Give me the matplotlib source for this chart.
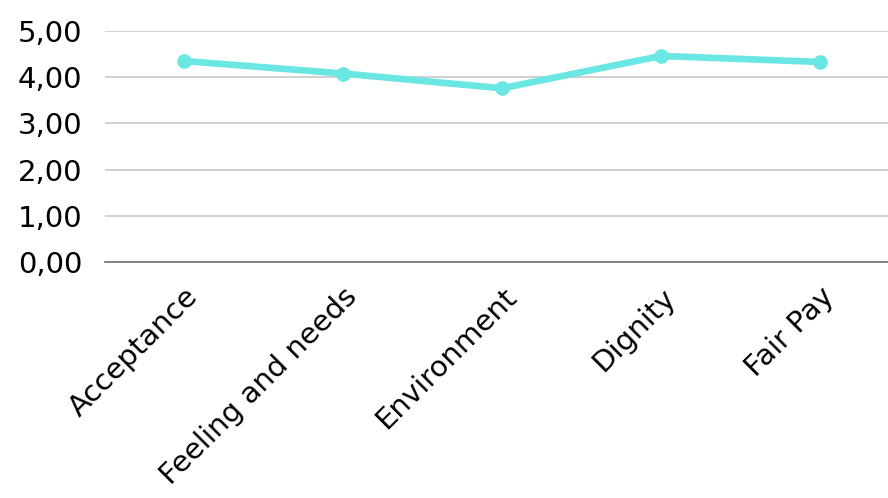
import matplotlib
matplotlib.use("Agg")
import matplotlib.pyplot as plt
from matplotlib.ticker import FuncFormatter

categories = ["Acceptance", "Feeling and needs", "Environment", "Dignity", "Fair Pay"]
values = [4.35, 4.08, 3.76, 4.46, 4.33]
yticks = [0, 1, 2, 3, 4, 5]

plt.rcParams['font.family'] = ['DejaVu Sans']

fig = plt.figure(figsize=(8.88, 4.98), dpi=100)
W, H = 888, 498
left, right = 104.5, 899.5
bottom, top = 262, 31
ax = fig.add_axes([left / W, 1 - bottom / H, (right - left) / W, (bottom - top) / H])

x = list(range(len(categories)))
ax.plot(x, values, color="#6ae6e3", linewidth=4.8, marker="o", markersize=9.5,
        solid_capstyle="round", zorder=3, clip_on=False)

ax.set_xlim(-0.5, len(categories) - 0.5)
ax.set_ylim(0, 5)
ax.set_yticks(yticks)
ax.yaxis.set_major_formatter(FuncFormatter(lambda v, p: f"{v:.2f}".replace(".", ",")))
ax.grid(axis="y", color="#c8c8c8", linewidth=1.2)
ax.set_axisbelow(True)
for s in ["top", "right", "left"]:
    ax.spines[s].set_visible(False)
ax.spines["bottom"].set_color("#707070")
ax.spines["bottom"].set_linewidth(1.2)
ax.tick_params(axis="y", length=0, labelsize=21, colors="black", pad=16)
ax.set_xticks(x)
ax.set_xticklabels(categories, rotation=45, ha="right", rotation_mode="anchor")
ax.tick_params(axis="x", length=0, labelsize=21, colors="black", pad=15)

fig.savefig("out.png", dpi=100)
